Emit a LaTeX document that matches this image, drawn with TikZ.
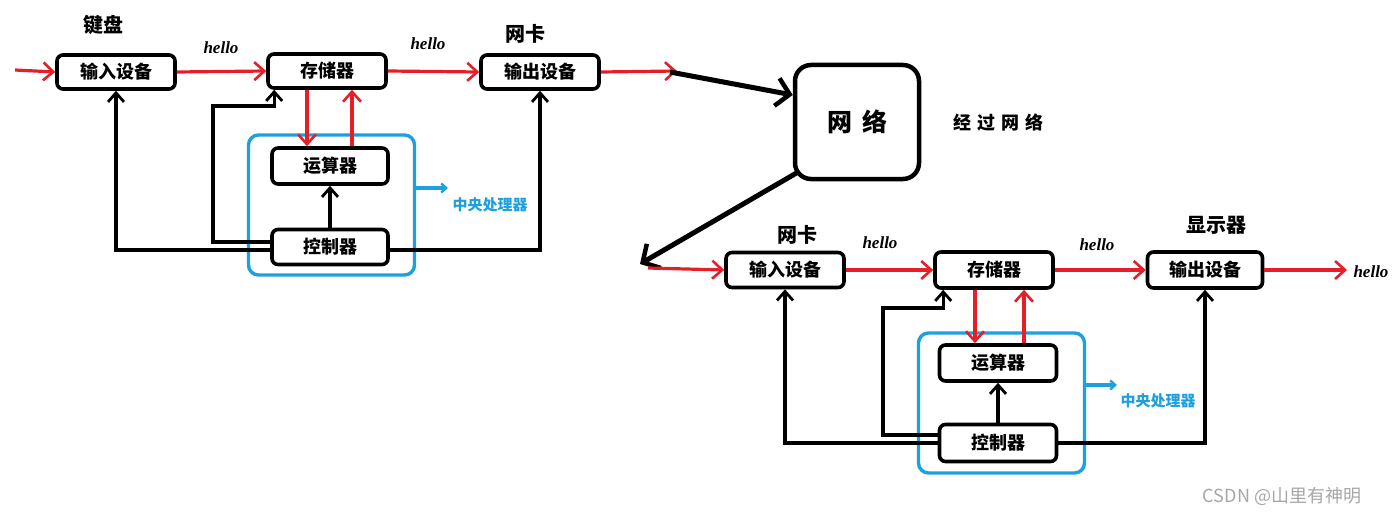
\documentclass[tikz,border=0pt]{standalone}
\usepackage{fontspec}
\newfontfamily\cjk{Noto Sans CJK SC}
\newfontfamily\hellofont{Liberation Serif}
\usetikzlibrary{arrows.meta}
\definecolor{cpublue}{RGB}{30,160,220}
\definecolor{arrred}{RGB}{230,30,40}
\tikzset{
  unit/.style={draw=black,line width=3.6pt,rounded corners=6pt,minimum width=118pt,minimum height=34pt,inner sep=0pt,font=\cjk\fontsize{18}{18}\selectfont\bfseries},
  cpubox/.style={draw=cpublue,line width=3.4pt,rounded corners=10pt,minimum width=166pt,minimum height=140pt,inner sep=0pt},
  netbox/.style={draw=black,line width=4.5pt,rounded corners=16pt,minimum width=124pt,minimum height=114pt,inner sep=0pt,font=\cjk\fontsize{25}{25}\selectfont\bfseries},
  redarr/.style={draw=arrred,line width=3.2pt,-{Straight Barb[length=10pt,width=18pt,line width=2.6pt]}},
  blkarr/.style={draw=black,line width=3.2pt,-{Straight Barb[length=9pt,width=16pt,line width=2.8pt]}},
  bigarr/.style={draw=black,line width=5pt,-{Straight Barb[length=13pt,width=28pt,line width=4.5pt]}},
  bluearr/.style={draw=cpublue,line width=3.4pt,-{Straight Barb[length=5pt,width=9pt,line width=2.4pt]}},
  lab/.style={font=\cjk\fontsize{20}{20}\selectfont\bfseries},
  hello/.style={font=\hellofont\fontsize{17}{17}\selectfont\bfseries\itshape},
  cpulab/.style={text=cpublue,font=\cjk\fontsize{15}{15}\selectfont\bfseries},
}
\begin{document}
\begin{tikzpicture}[x=1pt,y=-1pt]
\useasboundingbox (0,0) rectangle (1400,519);
% ---------- top system ----------
\node[unit] (in1) at (116,72) {输入设备};
\node[unit] (mem1) at (327,71) {存储器};
\node[unit] (out1) at (540,72) {输出设备};
\node[cpubox] (cpu1) at (331.5,205) {};
\node[unit,minimum width=116pt,minimum height=36pt] (alu1) at (330,166) {运算器};
\node[unit,minimum width=116pt,minimum height=35pt] (ctl1) at (330,247) {控制器};
\node[lab] (kb) at (103,25) {键盘};
\node[hello] (h1) at (221,48) {hello};
\node[hello] (h2) at (428,44) {hello};
\node[lab] (nic1) at (525,34) {网卡};
\node[cpulab] (cpuname1) at (490,205) {中央处理器};
\coordinate (src1) at (15,70);
\coordinate (dst1) at (677,71);
\coordinate (cpuarr1) at (448,188);
\draw[redarr] (src1) -- (in1.west);
\draw[redarr] (in1.east) -- (mem1.west);
\draw[redarr] (mem1.east) -- (out1.west);
\draw[redarr] (out1.east) -- (dst1);
\draw[redarr] ([xshift=-20pt]mem1.south) -- ([xshift=-20pt]mem1.south |- alu1.north);
\draw[redarr] ([xshift=22pt]alu1.north) -- ([xshift=22pt]alu1.north |- mem1.south);
\draw[blkarr] (ctl1.north) -- (alu1.south);
\draw[blkarr] ([yshift=-3pt]ctl1.west) -| (in1.south);
\draw[blkarr] ([yshift=-3pt]ctl1.east) -| (out1.south);
\draw[blkarr] ([yshift=5pt]ctl1.west) -| (213,106) -| ([xshift=8pt]mem1.south west);
\draw[bluearr] (cpu1.east |- cpuarr1) -- (cpuarr1);
% ---------- network ----------
\node[netbox] (net) at (857,122) {网\hspace{10pt}络};
\node[font=\cjk\fontsize{18}{18}\selectfont\bfseries] (via) at (998,123) {经\hspace{6pt}过\hspace{6pt}网\hspace{6pt}络};
\coordinate (n1) at (670,72);
\coordinate (n2) at (640,264);
\draw[bigarr] (n1) -- ([yshift=27pt]net.west);
\draw[bigarr] ([xshift=5pt,yshift=9pt]net.south west) -- (n2);
% ---------- bottom system ----------
\node[unit,minimum height=35pt] (in2) at (785,270) {输入设备};
\node[unit,minimum height=36pt] (mem2) at (994,270) {存储器};
\node[unit,minimum width=115pt,minimum height=36pt] (out2) at (1205,270) {输出设备};
\node[cpubox] (cpu2) at (1001.5,403) {};
\node[unit,minimum width=117pt,minimum height=36pt] (alu2) at (998,363) {运算器};
\node[unit,minimum width=117pt,minimum height=37pt] (ctl2) at (998,443) {控制器};
\node[lab] (nic2) at (797,235) {网卡};
\node[hello] (h3) at (880,243) {hello};
\node[hello] (h4) at (1097,245) {hello};
\node[lab] (disp) at (1216,225) {显示器};
\node[hello] (h5) at (1371,272) {hello};
\node[cpulab] (cpuname2) at (1158,401) {中央处理器};
\coordinate (src2) at (648,268);
\coordinate (dst2) at (1347,270);
\coordinate (cpuarr2) at (1117,385);
\draw[redarr] (src2) -- (in2.west);
\draw[redarr] (in2.east) -- (mem2.west);
\draw[redarr] (mem2.east) -- (out2.west);
\draw[redarr] (out2.east) -- (dst2);
\draw[redarr] ([xshift=-19pt]mem2.south) -- ([xshift=-19pt]mem2.south |- alu2.north);
\draw[redarr] ([xshift=26pt]alu2.north) -- ([xshift=26pt]alu2.north |- mem2.south);
\draw[blkarr] (ctl2.north) -- (alu2.south);
\draw[blkarr] ([yshift=0pt]ctl2.west) -| (in2.south);
\draw[blkarr] ([yshift=0pt]ctl2.east) -| (out2.south);
\draw[blkarr] ([yshift=8pt]ctl2.west) -| (883,308) -| ([xshift=10pt]mem2.south west);
\draw[bluearr] (cpu2.east |- cpuarr2) -- (cpuarr2);
% watermark
\node[text=black!35,font=\cjk\fontsize{18}{18}\selectfont] (wm) at (1282,496) {CSDN @山里有神明};
\end{tikzpicture}
\end{document}
